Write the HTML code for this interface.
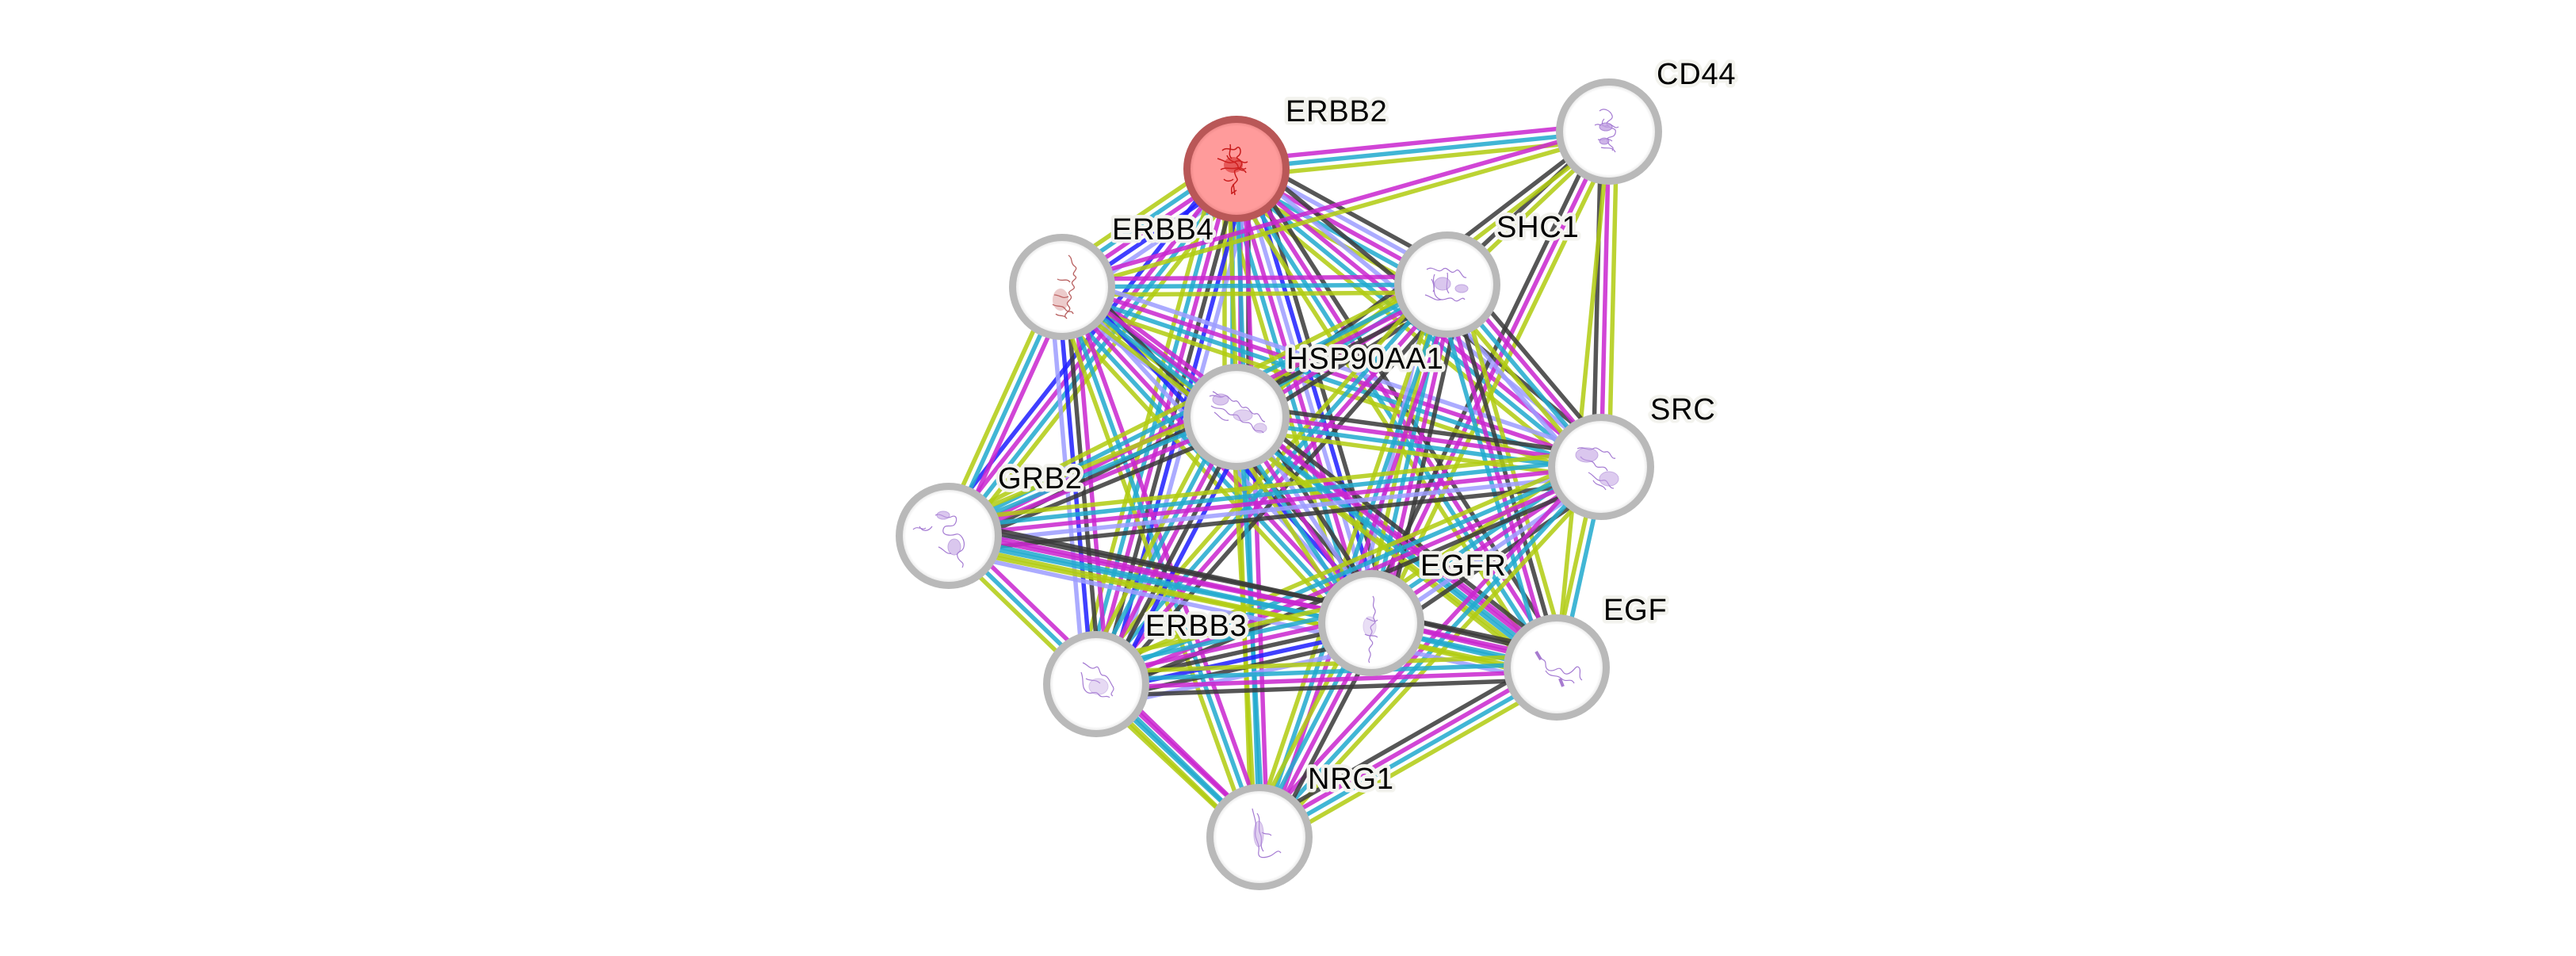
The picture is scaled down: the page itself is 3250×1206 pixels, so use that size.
<!DOCTYPE html>
<html><head><meta charset="utf-8"><style>
html,body{margin:0;padding:0;background:#fff;}
svg{display:block;}
.e path{stroke-width:5.5;fill:none;stroke-opacity:.86;}
.k{stroke:#3a3a3a}.m{stroke:#c927cf}.c{stroke:#22aace}.y{stroke:#b1cc12}.B{stroke:#1f1fff}.L{stroke:#9d9dff}
.lbl{font-family:"Liberation Sans",Arial,sans-serif;font-size:38px;letter-spacing:0.8px;fill:#000;stroke:#f3f3ee;stroke-width:9;stroke-linejoin:round;paint-order:stroke;}
.ring{fill:url(#ng);stroke:#b9b9b9;stroke-width:9;}
.sc{fill:none;stroke:#a47ad2;stroke-width:1.2;}
.sf{fill:#c3a2e3;stroke:#9b6fcf;stroke-width:1;}
</style></head><body>
<svg width="3250" height="1206" viewBox="0 0 3250 1206" xmlns="http://www.w3.org/2000/svg">
<defs>
<radialGradient id="ng" cx="50%" cy="50%" r="50%"><stop offset="0.86" stop-color="#ffffff"/><stop offset="1" stop-color="#d6d6d6"/></radialGradient>
<radialGradient id="rg" cx="50%" cy="50%" r="50%"><stop offset="0.86" stop-color="#ff9b9b"/><stop offset="1" stop-color="#e07a7a"/></radialGradient>
</defs>
<rect width="3250" height="1206" fill="#fff"/>
<g class="e">
<g transform="matrix(0.9951 -0.0995 0.0995 0.9951 1560 213)"><path class="m" d="M0 -10H472"/><path class="c" d="M0 0H472"/><path class="y" d="M0 10H472"/></g>
<g transform="matrix(-0.828 0.5608 -0.5608 -0.828 1560 213)"><path class="L" d="M0 -20H266"/><path class="B" d="M0 -10H266"/><path class="m" d="M0 0H266"/><path class="c" d="M0 10H266"/><path class="y" d="M0 20H266"/></g>
<g transform="matrix(0.8767 0.4812 -0.4812 0.8767 1560 213)"><path class="k" d="M0 -20H303"/><path class="L" d="M0 -10H303"/><path class="m" d="M0 0H303"/><path class="c" d="M0 10H303"/><path class="y" d="M0 20H303"/></g>
<g transform="matrix(0 1 -1 0 1560 213)"><path class="k" d="M0 -15H313"/><path class="m" d="M0 -5H313"/><path class="c" d="M0 5H313"/><path class="y" d="M0 15H313"/></g>
<g transform="matrix(0.7743 0.6329 -0.6329 0.7743 1560 213)"><path class="k" d="M0 -20H594"/><path class="L" d="M0 -10H594"/><path class="m" d="M0 0H594"/><path class="c" d="M0 10H594"/><path class="y" d="M0 20H594"/></g>
<g transform="matrix(-0.617 0.787 -0.787 -0.617 1560 213)"><path class="y" d="M0 -15H588"/><path class="c" d="M0 -5H588"/><path class="m" d="M0 5H588"/><path class="B" d="M0 15H588"/></g>
<g transform="matrix(0.2844 0.9587 -0.9587 0.2844 1560 213)"><path class="k" d="M0 -25H598"/><path class="B" d="M0 -15H598"/><path class="L" d="M0 -5H598"/><path class="m" d="M0 5H598"/><path class="c" d="M0 15H598"/><path class="y" d="M0 25H598"/></g>
<g transform="matrix(0.5404 0.8414 -0.8414 0.5404 1560 213)"><path class="k" d="M0 -15H748"/><path class="m" d="M0 -5H748"/><path class="c" d="M0 5H748"/><path class="y" d="M0 15H748"/></g>
<g transform="matrix(-0.2627 0.9648 -0.9648 -0.2627 1560 213)"><path class="L" d="M0 -25H674"/><path class="B" d="M0 -15H674"/><path class="k" d="M0 -5H674"/><path class="m" d="M0 5H674"/><path class="c" d="M0 15H674"/><path class="y" d="M0 25H674"/></g>
<g transform="matrix(0.0344 0.9994 -0.9994 0.0344 1560 213)"><path class="m" d="M0 -10H844"/><path class="c" d="M0 0H844"/><path class="y" d="M0 10H844"/></g>
<g transform="matrix(-0.962 0.2733 -0.2733 -0.962 2030 166)"><path class="y" d="M0 -5H717"/><path class="m" d="M0 5H717"/></g>
<g transform="matrix(-0.7265 0.6873 -0.6873 -0.7265 2030 166)"><path class="y" d="M0 -5H281"/><path class="k" d="M0 5H281"/></g>
<g transform="matrix(-0.7939 0.6081 -0.6081 -0.7939 2030 166)"><path class="y" d="M0 -5H592"/><path class="k" d="M0 5H592"/></g>
<g transform="matrix(-0.0236 0.9997 -0.9997 -0.0236 2030 166)"><path class="y" d="M0 -10H423"/><path class="m" d="M0 0H423"/><path class="k" d="M0 10H423"/></g>
<g transform="matrix(-0.4355 0.9001 -0.9001 -0.4355 2030 166)"><path class="y" d="M0 -10H689"/><path class="m" d="M0 0H689"/><path class="k" d="M0 10H689"/></g>
<g transform="matrix(-0.0972 0.9953 -0.9953 -0.0972 2030 166)"><path class="y" d="M0 0H679"/></g>
<g transform="matrix(1 -0.0062 0.0062 1 1340 362)"><path class="m" d="M0 -10H486"/><path class="c" d="M0 0H486"/><path class="y" d="M0 10H486"/></g>
<g transform="matrix(0.8017 0.5977 -0.5977 0.8017 1340 362)"><path class="m" d="M0 -15H274"/><path class="c" d="M0 -5H274"/><path class="y" d="M0 5H274"/><path class="L" d="M0 15H274"/></g>
<g transform="matrix(0.9485 0.3166 -0.3166 0.9485 1340 362)"><path class="L" d="M0 -15H717"/><path class="m" d="M0 -5H717"/><path class="c" d="M0 5H717"/><path class="y" d="M0 15H717"/></g>
<g transform="matrix(-0.4145 0.9101 -0.9101 -0.4145 1340 362)"><path class="m" d="M0 -10H345"/><path class="c" d="M0 0H345"/><path class="y" d="M0 10H345"/></g>
<g transform="matrix(0.677 0.736 -0.736 0.677 1340 362)"><path class="k" d="M0 -25H576"/><path class="B" d="M0 -15H576"/><path class="L" d="M0 -5H576"/><path class="m" d="M0 5H576"/><path class="c" d="M0 15H576"/><path class="y" d="M0 25H576"/></g>
<g transform="matrix(0.7926 0.6097 -0.6097 0.7926 1340 362)"><path class="m" d="M0 -10H787"/><path class="c" d="M0 0H787"/><path class="y" d="M0 10H787"/></g>
<g transform="matrix(0.0855 0.9964 -0.9964 0.0855 1340 362)"><path class="m" d="M0 -15H503"/><path class="k" d="M0 -5H503"/><path class="B" d="M0 5H503"/><path class="L" d="M0 15H503"/></g>
<g transform="matrix(0.3377 0.9413 -0.9413 0.3377 1340 362)"><path class="m" d="M0 -10H737"/><path class="c" d="M0 0H737"/><path class="y" d="M0 10H737"/></g>
<g transform="matrix(-0.8469 0.5317 -0.5317 -0.8469 1826 359)"><path class="k" d="M0 -15H314"/><path class="m" d="M0 -5H314"/><path class="c" d="M0 5H314"/><path class="y" d="M0 15H314"/></g>
<g transform="matrix(0.6447 0.7644 -0.7644 0.6447 1826 359)"><path class="k" d="M0 -20H301"/><path class="m" d="M0 -10H301"/><path class="c" d="M0 0H301"/><path class="y" d="M0 10H301"/><path class="L" d="M0 20H301"/></g>
<g transform="matrix(-0.893 0.45 -0.45 -0.893 1826 359)"><path class="k" d="M0 -15H704"/><path class="m" d="M0 -5H704"/><path class="c" d="M0 5H704"/><path class="y" d="M0 15H704"/></g>
<g transform="matrix(-0.2193 0.9756 -0.9756 -0.2193 1826 359)"><path class="k" d="M0 -20H438"/><path class="m" d="M0 -10H438"/><path class="c" d="M0 0H438"/><path class="y" d="M0 10H438"/><path class="L" d="M0 20H438"/></g>
<g transform="matrix(0.2747 0.9616 -0.9616 0.2747 1826 359)"><path class="y" d="M0 -15H502"/><path class="k" d="M0 -5H502"/><path class="m" d="M0 5H502"/><path class="c" d="M0 15H502"/></g>
<g transform="matrix(-0.6602 0.7511 -0.7511 -0.6602 1826 359)"><path class="k" d="M0 -15H671"/><path class="m" d="M0 -5H671"/><path class="c" d="M0 5H671"/><path class="y" d="M0 15H671"/></g>
<g transform="matrix(-0.3219 0.9468 -0.9468 -0.3219 1826 359)"><path class="m" d="M0 -10H736"/><path class="c" d="M0 0H736"/><path class="y" d="M0 10H736"/></g>
<g transform="matrix(0.9907 0.1357 -0.1357 0.9907 1560 526)"><path class="k" d="M0 -15H464"/><path class="m" d="M0 -5H464"/><path class="c" d="M0 5H464"/><path class="y" d="M0 15H464"/></g>
<g transform="matrix(-0.9241 0.3819 -0.3819 -0.9241 1560 526)"><path class="k" d="M0 -15H393"/><path class="m" d="M0 -5H393"/><path class="c" d="M0 5H393"/><path class="y" d="M0 15H393"/></g>
<g transform="matrix(0.5473 0.8371 -0.8371 0.5473 1560 526)"><path class="k" d="M0 -20H311"/><path class="L" d="M0 -10H311"/><path class="m" d="M0 0H311"/><path class="c" d="M0 10H311"/><path class="y" d="M0 20H311"/></g>
<g transform="matrix(0.7877 0.6161 -0.6161 0.7877 1560 526)"><path class="k" d="M0 -15H513"/><path class="m" d="M0 -5H513"/><path class="c" d="M0 5H513"/><path class="y" d="M0 15H513"/></g>
<g transform="matrix(-0.4649 0.8852 -0.8852 -0.4649 1560 526)"><path class="B" d="M0 -20H381"/><path class="k" d="M0 -10H381"/><path class="m" d="M0 0H381"/><path class="c" d="M0 10H381"/><path class="y" d="M0 20H381"/></g>
<g transform="matrix(0.0546 0.9985 -0.9985 0.0546 1560 526)"><path class="c" d="M0 -5H531"/><path class="y" d="M0 5H531"/></g>
<g transform="matrix(-0.9944 0.1051 -0.1051 -0.9944 2020 589)"><path class="k" d="M0 -20H828"/><path class="L" d="M0 -10H828"/><path class="m" d="M0 0H828"/><path class="c" d="M0 10H828"/><path class="y" d="M0 20H828"/></g>
<g transform="matrix(-0.8272 0.5619 -0.5619 -0.8272 2020 589)"><path class="k" d="M0 -20H351"/><path class="L" d="M0 -10H351"/><path class="m" d="M0 0H351"/><path class="c" d="M0 10H351"/><path class="y" d="M0 20H351"/></g>
<g transform="matrix(-0.2161 0.9764 -0.9764 -0.2161 2020 589)"><path class="c" d="M0 -5H259"/><path class="y" d="M0 5H259"/></g>
<g transform="matrix(-0.9187 0.3952 -0.3952 -0.9187 2020 589)"><path class="k" d="M0 -15H693"/><path class="m" d="M0 -5H693"/><path class="c" d="M0 5H693"/><path class="y" d="M0 15H693"/></g>
<g transform="matrix(-0.6782 0.7349 -0.7349 -0.6782 2020 589)"><path class="y" d="M0 -10H636"/><path class="c" d="M0 0H636"/><path class="m" d="M0 10H636"/></g>
<g transform="matrix(0.9794 0.2021 -0.2021 0.9794 1197 676)"><path class="k" d="M0 -15H544"/><path class="m" d="M0 -5H544"/><path class="c" d="M0 5H544"/><path class="y" d="M0 15H544"/></g>
<g transform="matrix(0.9773 0.2115 -0.2115 0.9773 1197 676)"><path class="k" d="M0 -20H785"/><path class="m" d="M0 -10H785"/><path class="c" d="M0 0H785"/><path class="y" d="M0 10H785"/><path class="L" d="M0 20H785"/></g>
<g transform="matrix(0.718 0.696 -0.696 0.718 1197 676)"><path class="m" d="M0 -10H546"/><path class="c" d="M0 0H546"/><path class="y" d="M0 10H546"/></g>
<g transform="matrix(0.9726 0.2327 -0.2327 0.9726 1730 786)"><path class="k" d="M0 -15H241"/><path class="m" d="M0 -5H241"/><path class="c" d="M0 5H241"/><path class="y" d="M0 15H241"/></g>
<g transform="matrix(-0.9763 0.2167 -0.2167 -0.9763 1730 786)"><path class="L" d="M0 -30H355"/><path class="k" d="M0 -20H355"/><path class="B" d="M0 -10H355"/><path class="k" d="M0 0H355"/><path class="m" d="M0 10H355"/><path class="c" d="M0 20H355"/><path class="y" d="M0 30H355"/></g>
<g transform="matrix(-0.4629 0.8864 -0.8864 -0.4629 1730 786)"><path class="k" d="M0 -15H305"/><path class="m" d="M0 -5H305"/><path class="c" d="M0 5H305"/><path class="y" d="M0 15H305"/></g>
<g transform="matrix(-0.9993 0.0361 -0.0361 -0.9993 1964 842)"><path class="k" d="M0 -15H581"/><path class="m" d="M0 -5H581"/><path class="c" d="M0 5H581"/><path class="y" d="M0 15H581"/></g>
<g transform="matrix(-0.8685 0.4956 -0.4956 -0.8685 1964 842)"><path class="y" d="M0 -15H432"/><path class="c" d="M0 -5H432"/><path class="m" d="M0 5H432"/><path class="k" d="M0 15H432"/></g>
<g transform="matrix(0.7297 0.6837 -0.6837 0.7297 1383 863)"><path class="m" d="M0 -10H282"/><path class="c" d="M0 0H282"/><path class="y" d="M0 10H282"/></g>
</g>

<!-- Nodes -->
<g>
<circle cx="1560" cy="213" r="62.5" fill="url(#rg)" stroke="#b95757" stroke-width="9"/>
<path d="M1542 190c6-6 14 2 18-3s8 6 2 10 8 4 4 12-10 2-8 10 6 6 0 12-4 8-4 14M1536 200c8 2 14 8 22 4s10 4 16 0M1540 214c6-4 14 0 20-2s8 4 12 0M1544 226c4 4 10 2 12 0M1548 196c4 10 12 6 14 14s8 2 10 8M1552 182c2 8-4 12 2 18" fill="none" stroke="#c81c1c" stroke-width="1.5"/>
<ellipse cx="1556" cy="208" rx="12" ry="10" fill="#d42424" opacity=".55"/>
<path d="M1556 232l2 14M1554 244l6-4" stroke="#c81c1c" stroke-width="1.5"/>

<circle cx="2030" cy="166" r="62.5" class="ring"/>
<path class="sc" d="M2018 140c6-5 14 0 16 6s-10 6-6 12 12 2 10 10-12 2-10 10 10 6 6 12M2012 158c6-4 10 4 16 0s8 6 14 2M2016 176c8 2 10-4 18 2M2024 150c-6 6 0 12 6 10M2020 186c6 2 14-2 18 6"/>
<ellipse cx="2026" cy="160" rx="8" ry="5" class="sf" opacity=".8"/>
<ellipse cx="2024" cy="178" rx="6" ry="4" class="sf" opacity=".8"/>

<circle cx="1340" cy="362" r="62.5" class="ring"/>
<path d="M1348 322c6 4 2 10 8 14s-6 8 0 12-8 6-2 12-10 6-4 12-8 8-2 14-6 8-4 14M1334 352c6 4 12-2 16 4M1330 372c8 0 10 6 18 2M1328 384c6 4 12 0 16 6s8 0 10 6M1332 396c4 4 10 0 14 6" fill="none" stroke="#b86060" stroke-width="1.3"/>
<ellipse cx="1338" cy="378" rx="10" ry="14" fill="#c86a6a" opacity=".35"/>

<circle cx="1826" cy="359" r="62.5" class="ring"/>
<path class="sc" d="M1800 340c8-6 14 6 20 0s10 8 16 2 8 10 14 8M1806 352c6 10 0 18 8 24s14-4 20 2 10-6 14 0M1798 372c8 2 12 8 20 6M1826 344c2 10-4 18 2 26M1810 346c-4 8 2 16-2 22" stroke-width="1.5"/>
<ellipse cx="1820" cy="358" rx="10" ry="8" class="sf" opacity=".6"/>
<ellipse cx="1844" cy="364" rx="8" ry="5" class="sf" opacity=".6"/>

<circle cx="1560" cy="526" r="62.5" class="ring"/>
<path class="sc" d="M1526 500c6-4 12 4 18 0s8 8 14 6 6 10 12 8 8 10 14 8 6 10 12 10M1528 512c8 6 14 0 20 8s12-2 16 8 12 0 16 10 10 2 14 8M1532 520c6 4 10 12 18 10M1530 494c6 2 8 8 14 6" stroke-width="1.4"/>
<ellipse cx="1540" cy="504" rx="10" ry="7" class="sf" opacity=".6"/>
<ellipse cx="1568" cy="524" rx="12" ry="7" class="sf" opacity=".5"/>
<ellipse cx="1590" cy="540" rx="8" ry="6" class="sf" opacity=".5"/>

<circle cx="2020" cy="589" r="62.5" class="ring"/>
<path class="sc" d="M1990 566c8-4 14 4 20 0s10 6 16 4 6 10 12 8M1994 576c6 8 14 2 18 10s12-2 16 8M2004 596c8 4 10 12 18 10s6 10 14 10M2010 606c4 8 12 4 16 12" stroke-width="1.5"/>
<ellipse cx="2002" cy="574" rx="14" ry="9" class="sf" opacity=".6"/>
<ellipse cx="2030" cy="604" rx="12" ry="9" class="sf" opacity=".55"/>

<circle cx="1197" cy="676" r="62.5" class="ring"/>
<path class="sc" d="M1180 650c8-4 12 6 20 2s8 6 4 10-12-2-14 6 10 8 16 6 12 8 10 16-10 4-8 12 10 6 6 14M1152 668c6-6 12 2 16-2M1184 690c6 2 10 10 16 8M1160 664c4 8 12 6 16 0" stroke-width="1.3"/>
<ellipse cx="1190" cy="650" rx="8" ry="5" class="sf" opacity=".6"/>
<ellipse cx="1204" cy="690" rx="8" ry="10" class="sf" opacity=".6"/>

<circle cx="1730" cy="786" r="62.5" class="ring"/>
<path class="sc" d="M1732 752c4 6-2 10 2 16s-4 8 0 14-8 6-4 12-6 8 0 14-6 8-2 14-4 10 0 14M1724 780c6 2 10 6 14 2M1722 800c6 4 12 0 16 4" stroke-width="1.3"/>
<ellipse cx="1728" cy="790" rx="8" ry="12" class="sf" opacity=".35"/>

<circle cx="1964" cy="842" r="62.5" class="ring"/>
<path class="sc" d="M1940 826c4 8 10 4 10 12s6 10 14 6 6 8 14 6 10-12 14-8-2 12 4 16M1950 846c6 10 14 4 20 10s12-2 16 6" stroke-width="1.5"/>
<path d="M1938 822l6 10M1968 856l4 10" stroke="#a77bd0" stroke-width="4"/>

<circle cx="1383" cy="863" r="62.5" class="ring"/>
<path class="sc" d="M1366 836c6 2 10 10 16 6s4 10 10 10 8 8 12 14-6 8 0 12M1364 848c4 10 0 18 6 24s12-2 16 4 10 0 14 4M1370 856c6 4 12 0 18 6" stroke-width="1.3"/>
<ellipse cx="1386" cy="866" rx="12" ry="10" class="sf" opacity=".4"/>

<circle cx="1589" cy="1056" r="62.5" class="ring"/>
<path class="sc" d="M1580 1020c2 10 6 18 4 28s6 16 4 26 8 8 14 6 10-10 14-4M1586 1026c6 8 0 18 4 26s-2 14 4 22M1592 1050c6 4 8 0 12 4" stroke-width="1.5"/>
<ellipse cx="1588" cy="1052" rx="6" ry="16" class="sf" opacity=".5"/>
</g>

<!-- Labels -->
<g>
<text class="lbl" x="1622" y="153">ERBB2</text>
<text class="lbl" x="2090" y="106">CD44</text>
<text class="lbl" x="1403" y="302">ERBB4</text>
<text class="lbl" x="1888" y="299">SHC1</text>
<text class="lbl" x="1623" y="465">HSP90AA1</text>
<text class="lbl" x="2082" y="529">SRC</text>
<text class="lbl" x="1259" y="616">GRB2</text>
<text class="lbl" x="1792" y="726">EGFR</text>
<text class="lbl" x="2023" y="782">EGF</text>
<text class="lbl" x="1445" y="802">ERBB3</text>
<text class="lbl" x="1650" y="995">NRG1</text>
</g>
</svg>
</body></html>
